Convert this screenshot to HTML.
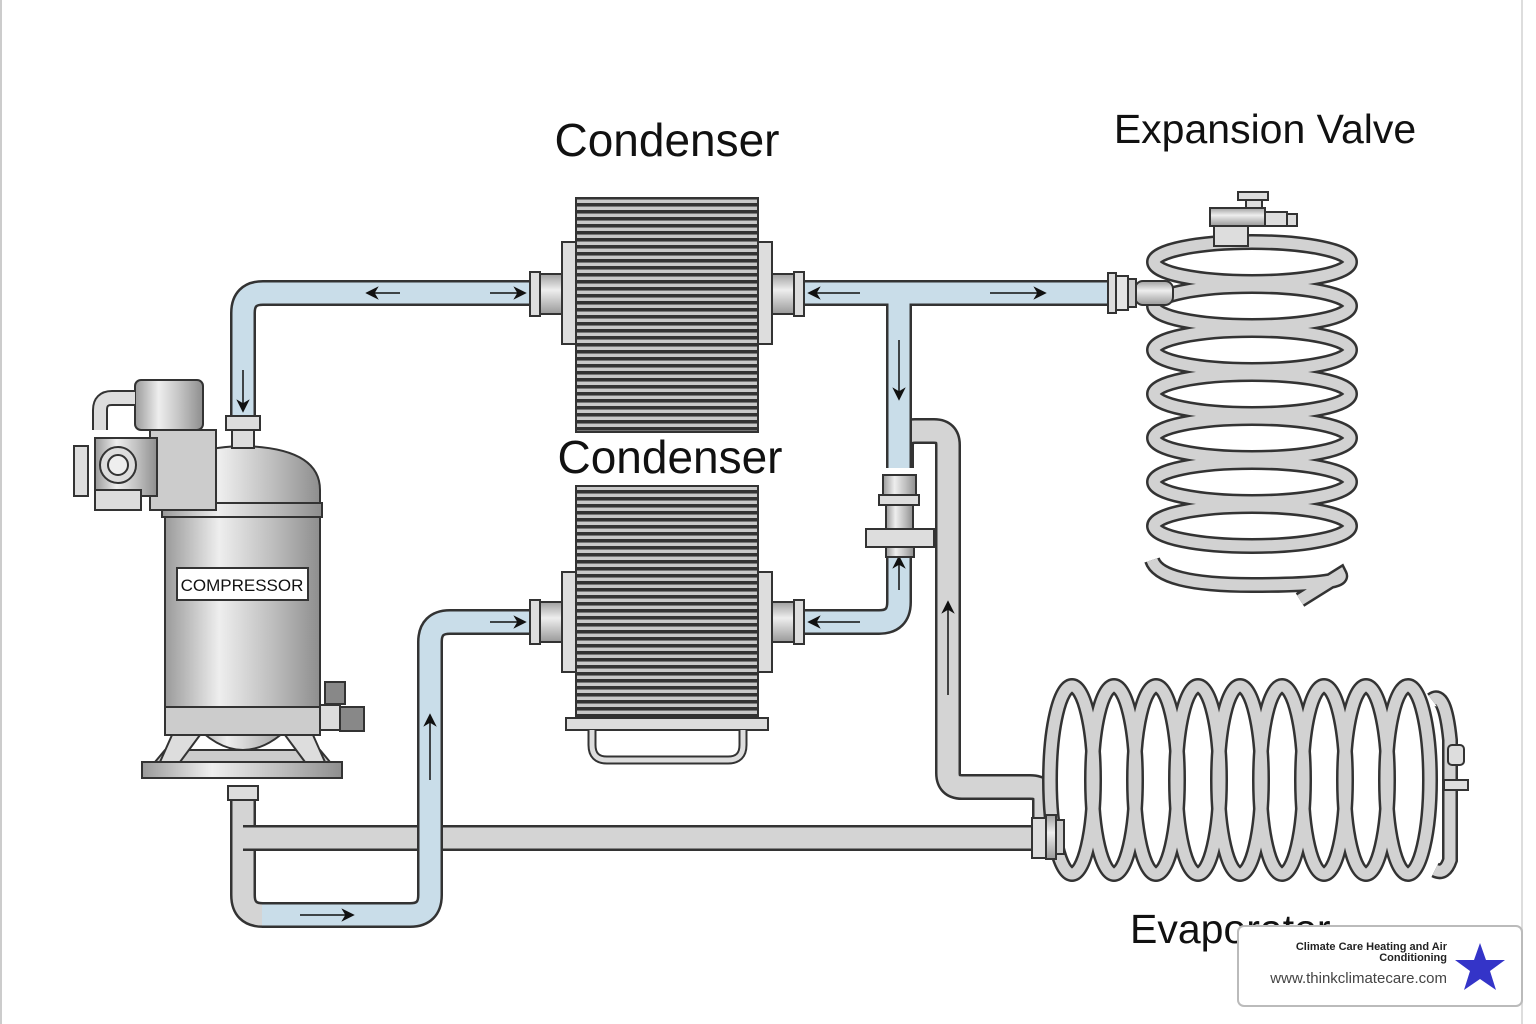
<!DOCTYPE html>
<html><head><meta charset="utf-8"><style>
html,body{margin:0;padding:0;background:#fff;}
svg{display:block;}
text{font-family:"Liberation Sans",sans-serif;}
</style></head><body>
<svg width="1536" height="1024" viewBox="0 0 1536 1024" xmlns="http://www.w3.org/2000/svg">
<defs>
<pattern id="fins" width="10" height="7" patternUnits="userSpaceOnUse">
<rect width="10" height="7" fill="#c8c8c8"/>
<rect y="0" width="10" height="3" fill="#333"/>
<rect y="3" width="10" height="1" fill="#777"/>
</pattern>
<linearGradient id="metal" x1="0" x2="1" y1="0" y2="0">
<stop offset="0" stop-color="#9a9a9a"/><stop offset="0.35" stop-color="#eeeeee"/><stop offset="0.7" stop-color="#bdbdbd"/><stop offset="1" stop-color="#8e8e8e"/>
</linearGradient>
<linearGradient id="metalv" x1="0" x2="0" y1="0" y2="1">
<stop offset="0" stop-color="#a0a0a0"/><stop offset="0.4" stop-color="#eeeeee"/><stop offset="1" stop-color="#999"/>
</linearGradient>
<marker id="a" viewBox="0 0 10 10" refX="5" refY="5" markerWidth="9" markerHeight="9" orient="auto"><path d="M0,0 L10,5 L0,10 L3,5Z" fill="#111"/></marker>
</defs>
<rect x="0" y="0" width="1536" height="1024" fill="#fff"/>
<line x1="1" y1="0" x2="1" y2="1024" stroke="#ccc" stroke-width="2"/>
<line x1="1522" y1="0" x2="1522" y2="1024" stroke="#ddd" stroke-width="2"/>

<!-- labels -->
<text x="667" y="156" font-size="46" text-anchor="middle" fill="#111">Condenser</text>
<text x="670" y="473" font-size="46" text-anchor="middle" fill="#111">Condenser</text>
<text x="1265" y="143" font-size="41" text-anchor="middle" fill="#111">Expansion Valve</text>
<text x="1130" y="943" font-size="41" fill="#111">Evaporator</text>

<!-- gray pipes -->
<g fill="none" stroke-linejoin="round">
<path d="M243,790 V895 Q243,915 263,915 H275" stroke="#333" stroke-width="26"/>
<path d="M243,790 V895 Q243,915 263,915 H275" stroke="#d4d4d4" stroke-width="21"/>
<path d="M243,838 H1040" stroke="#333" stroke-width="26"/>
<path d="M243,838 H1040" stroke="#d4d4d4" stroke-width="21"/>
<path d="M901,468 V445 Q901,431 915,431 H934 Q948,431 948,445 V773 Q948,787 962,787 H1030 Q1045,787 1045,800 V822" stroke="#333" stroke-width="26"/>
<path d="M901,468 V445 Q901,431 915,431 H934 Q948,431 948,445 V773 Q948,787 962,787 H1030 Q1045,787 1045,800 V822" stroke="#d4d4d4" stroke-width="21"/>
</g>
<!-- blue pipes -->
<g fill="none" stroke-linejoin="round">
<g stroke="#333" stroke-width="26">
<path d="M243,420 V313 Q243,293 263,293 H532"/>
<path d="M805,293 H1110"/>
<path d="M899,305 V468"/>
<path d="M805,622 H879 Q899,622 899,602 V550"/>
<path d="M532,622 H450 Q430,622 430,642 V895 Q430,915 410,915 H262"/>
</g>
<g stroke="#c9dde9" stroke-width="21">
<path d="M243,420 V313 Q243,293 263,293 H532"/>
<path d="M805,293 H1110"/>
<path d="M899,295 V468"/>
<path d="M805,622 H879 Q899,622 899,602 V550"/>
<path d="M532,622 H450 Q430,622 430,642 V895 Q430,915 410,915 H262"/>
</g>
</g>
<!-- arrows -->
<g stroke="#111" stroke-width="1.5" marker-end="url(#a)">
<line x1="400" y1="293" x2="372" y2="293"/>
<line x1="490" y1="293" x2="520" y2="293"/>
<line x1="243" y1="370" x2="243" y2="406"/>
<line x1="860" y1="293" x2="814" y2="293"/>
<line x1="990" y1="293" x2="1040" y2="293"/>
<line x1="899" y1="340" x2="899" y2="394"/>
<line x1="860" y1="622" x2="814" y2="622"/>
<line x1="899" y1="590" x2="899" y2="562"/>
<line x1="490" y1="622" x2="520" y2="622"/>
<line x1="430" y1="780" x2="430" y2="720"/>
<line x1="300" y1="915" x2="348" y2="915"/>
<line x1="948" y1="695" x2="948" y2="607"/>
</g>

<!-- valve -->
<rect x="883" y="475" width="33" height="20" fill="url(#metal)" stroke="#333" stroke-width="2"/>
<rect x="879" y="495" width="40" height="10" fill="#ddd" stroke="#333" stroke-width="2"/>
<rect x="886" y="505" width="27" height="24" fill="url(#metal)" stroke="#333" stroke-width="2"/>
<rect x="866" y="529" width="68" height="18" fill="#ddd" stroke="#333" stroke-width="2"/>
<rect x="886" y="547" width="28" height="10" fill="url(#metal)" stroke="#333" stroke-width="2"/>

<!-- condensers -->
<g stroke="#333" stroke-width="2">
<rect x="576" y="198" width="182" height="234" fill="url(#fins)"/>
<rect x="576" y="486" width="182" height="232" fill="url(#fins)"/>
<rect x="566" y="718" width="202" height="12" fill="#ddd"/>
<path d="M592,730 V745 Q592,760 607,760 H728 Q743,760 743,745 V730" fill="none" stroke-width="9"/>
<path d="M592,730 V745 Q592,760 607,760 H728 Q743,760 743,745 V730" fill="none" stroke="#ddd" stroke-width="5"/>
<rect x="530" y="272" width="10" height="44" fill="#ddd"/>
<rect x="540" y="274" width="22" height="40" fill="url(#metalv)"/>
<rect x="562" y="242" width="14" height="102" fill="#ddd"/>
<rect x="758" y="242" width="14" height="102" fill="#ddd"/>
<rect x="772" y="274" width="22" height="40" fill="url(#metalv)"/>
<rect x="794" y="272" width="10" height="44" fill="#ddd"/>
<rect x="530" y="600" width="10" height="44" fill="#ddd"/>
<rect x="540" y="602" width="22" height="40" fill="url(#metalv)"/>
<rect x="562" y="572" width="14" height="100" fill="#ddd"/>
<rect x="758" y="572" width="14" height="100" fill="#ddd"/>
<rect x="772" y="602" width="22" height="40" fill="url(#metalv)"/>
<rect x="794" y="600" width="10" height="44" fill="#ddd"/>
</g>

<!-- expansion coil -->
<g fill="none">
<g stroke="#333" stroke-width="16">
<ellipse cx="1252" cy="262" rx="98" ry="20"/>
<ellipse cx="1252" cy="306" rx="98" ry="20"/>
<ellipse cx="1252" cy="350" rx="98" ry="20"/>
<ellipse cx="1252" cy="394" rx="98" ry="20"/>
<ellipse cx="1252" cy="438" rx="98" ry="20"/>
<ellipse cx="1252" cy="482" rx="98" ry="20"/>
<ellipse cx="1252" cy="526" rx="98" ry="20"/>
<path d="M1152,560 Q1160,585 1252,585 Q1345,585 1340,575 L1300,600"/>
</g>
<g stroke="#d2d2d2" stroke-width="11">
<ellipse cx="1252" cy="262" rx="98" ry="20"/>
<ellipse cx="1252" cy="306" rx="98" ry="20"/>
<ellipse cx="1252" cy="350" rx="98" ry="20"/>
<ellipse cx="1252" cy="394" rx="98" ry="20"/>
<ellipse cx="1252" cy="438" rx="98" ry="20"/>
<ellipse cx="1252" cy="482" rx="98" ry="20"/>
<ellipse cx="1252" cy="526" rx="98" ry="20"/>
<path d="M1152,560 Q1160,585 1252,585 Q1345,585 1340,575 L1300,600"/>
</g>
</g>
<g stroke="#333" stroke-width="2">
<rect x="1135" y="281" width="38" height="24" rx="8" fill="url(#metalv)"/>
<rect x="1108" y="273" width="8" height="40" fill="#ddd"/>
<rect x="1116" y="276" width="12" height="34" fill="#e5e5e5"/>
<rect x="1128" y="279" width="8" height="28" fill="#ccc"/>
<rect x="1238" y="192" width="30" height="8" fill="#ddd"/>
<rect x="1246" y="200" width="16" height="10" fill="#ddd"/>
<rect x="1210" y="208" width="55" height="18" fill="url(#metalv)"/>
<rect x="1265" y="212" width="22" height="14" fill="#ddd"/>
<rect x="1287" y="214" width="10" height="12" fill="#ddd"/>
<rect x="1214" y="226" width="34" height="20" fill="#ddd"/>
</g>

<!-- evaporator coil -->
<g fill="none">
<g stroke="#333" stroke-width="16">
<ellipse cx="1072" cy="780" rx="22" ry="94"/>
<ellipse cx="1114" cy="780" rx="22" ry="94"/>
<ellipse cx="1156" cy="780" rx="22" ry="94"/>
<ellipse cx="1198" cy="780" rx="22" ry="94"/>
<ellipse cx="1240" cy="780" rx="22" ry="94"/>
<ellipse cx="1282" cy="780" rx="22" ry="94"/>
<ellipse cx="1324" cy="780" rx="22" ry="94"/>
<ellipse cx="1366" cy="780" rx="22" ry="94"/>
<ellipse cx="1408" cy="780" rx="22" ry="94"/>
<path d="M1432,700 Q1445,690 1450,740 V860 Q1445,875 1435,870"/>
</g>
<g stroke="#d2d2d2" stroke-width="11">
<ellipse cx="1072" cy="780" rx="22" ry="94"/>
<ellipse cx="1114" cy="780" rx="22" ry="94"/>
<ellipse cx="1156" cy="780" rx="22" ry="94"/>
<ellipse cx="1198" cy="780" rx="22" ry="94"/>
<ellipse cx="1240" cy="780" rx="22" ry="94"/>
<ellipse cx="1282" cy="780" rx="22" ry="94"/>
<ellipse cx="1324" cy="780" rx="22" ry="94"/>
<ellipse cx="1366" cy="780" rx="22" ry="94"/>
<ellipse cx="1408" cy="780" rx="22" ry="94"/>
<path d="M1432,700 Q1445,690 1450,740 V860 Q1445,875 1435,870"/>
</g>
</g>
<g stroke="#333" stroke-width="2">
<rect x="1448" y="745" width="16" height="20" rx="4" fill="#ddd"/>
<rect x="1444" y="780" width="24" height="10" fill="#ddd"/>
<rect x="1032" y="818" width="14" height="40" fill="#ddd"/>
<rect x="1046" y="815" width="10" height="44" fill="url(#metalv)"/>
<rect x="1056" y="820" width="8" height="34" fill="#ccc"/>
</g>

<!-- compressor -->
<g stroke="#333" stroke-width="2">
<rect x="228" y="786" width="30" height="14" fill="#ddd"/>
<rect x="142" y="762" width="200" height="16" fill="url(#metal)"/>
<path d="M165,750 L155,762 H330 L320,750Z" fill="#ccc"/>
<path d="M190,720 Q243,780 296,720Z" fill="url(#metal)"/>
<rect x="165" y="705" width="155" height="30" fill="#ccc"/>
<path d="M172,735 L160,762 H180 L200,735Z M313,735 L325,762 H305 L285,735Z" fill="#ddd"/>
<rect x="165" y="512" width="155" height="195" fill="url(#metal)"/>
<rect x="162" y="503" width="160" height="14" fill="url(#metal)"/>
<path d="M165,503 V490 Q165,448 243,446 Q320,448 320,490 V503Z" fill="url(#metal)"/>
<rect x="232" y="430" width="22" height="18" fill="#ddd"/>
<rect x="226" y="416" width="34" height="14" fill="#ddd"/>
<rect x="177" y="568" width="131" height="32" fill="#fff"/>
<rect x="135" y="380" width="68" height="50" rx="6" fill="url(#metal)"/>
<path d="M100,430 V410 Q100,398 112,398 H135" fill="none" stroke-width="16"/>
<path d="M100,430 V410 Q100,398 112,398 H135" fill="none" stroke="#ddd" stroke-width="12"/>
<rect x="150" y="430" width="66" height="80" fill="#ccc"/>
<rect x="95" y="438" width="62" height="58" fill="url(#metal)"/>
<circle cx="118" cy="465" r="18" fill="#ddd"/>
<circle cx="118" cy="465" r="10" fill="#eee"/>
<rect x="74" y="446" width="14" height="50" fill="#ddd"/>
<rect x="95" y="490" width="46" height="20" fill="#ddd"/>
<rect x="320" y="705" width="20" height="25" fill="#ddd"/>
<rect x="325" y="682" width="20" height="22" fill="#888"/>
<rect x="340" y="707" width="24" height="24" fill="#888"/>
</g>
<text x="242" y="591" font-size="17" text-anchor="middle" fill="#111">COMPRESSOR</text>

<!-- logo -->
<rect x="1238" y="926" width="284" height="80" rx="6" fill="#fff" stroke="#bbb" stroke-width="2"/>
<text x="1447" y="950" font-size="11" font-weight="bold" text-anchor="end" fill="#222">Climate Care Heating and Air</text>
<text x="1447" y="961" font-size="11" font-weight="bold" text-anchor="end" fill="#222">Conditioning</text>
<text x="1447" y="983" font-size="15" text-anchor="end" fill="#444">www.thinkclimatecare.com</text>
<polygon points="1480,943 1486,960 1505,960 1490,971 1496,990 1480,979 1464,990 1470,971 1455,960 1474,960" fill="#3434c8"/>
</svg>
</body></html>
